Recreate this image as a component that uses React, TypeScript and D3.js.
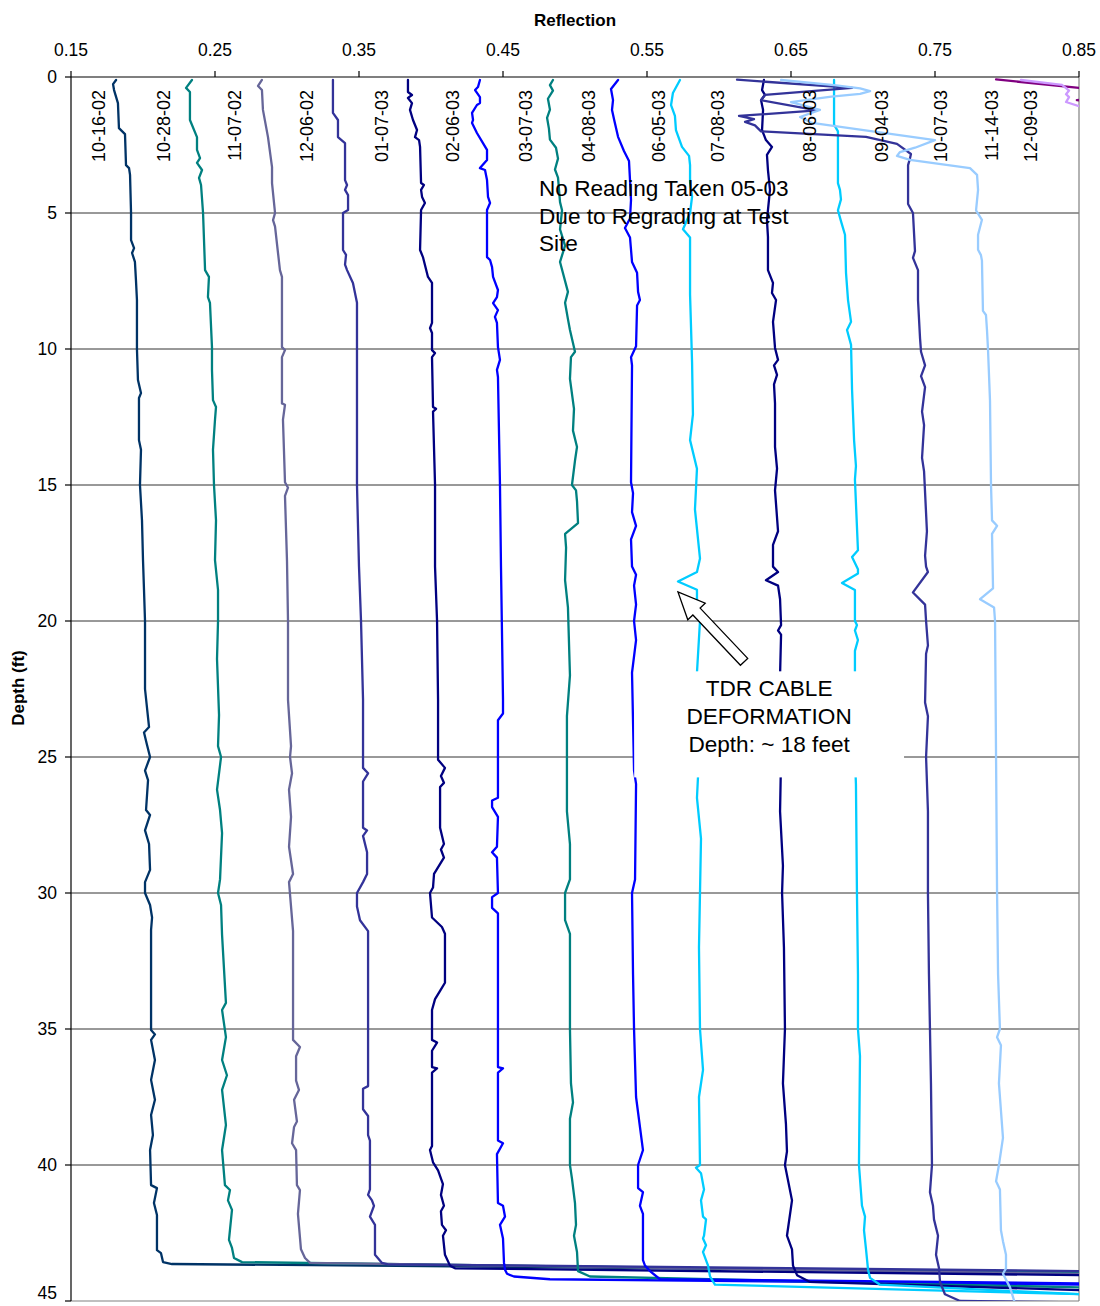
import React from 'react';
import * as d3 from 'd3';

// ---------- axis ticks ----------
const xTicks = [0.15, 0.25, 0.35, 0.45, 0.55, 0.65, 0.75, 0.85];
const yTicks = [0, 5, 10, 15, 20, 25, 30, 35, 40, 45];
const gridDepths = [5, 10, 15, 20, 25, 30, 35, 40];

// ---------- series names (reading dates) ----------
const seriesNames = [
  '10-16-02', '10-28-02', '11-07-02', '12-06-02', '01-07-03', '02-06-03', '03-07-03',
  '04-08-03', '06-05-03', '07-08-03', '08-06-03', '09-04-03', '10-07-03', '11-14-03', '12-09-03',
];
// reflection value where each rotated date label sits
const labelReflection = [
  0.1694, 0.2146, 0.2639, 0.3139, 0.366, 0.4153, 0.466, 0.5097,
  0.5583, 0.5993, 0.6632, 0.7132, 0.7542, 0.7896, 0.8167,
];

// ---------- data: [depth (ft), reflection] ----------
const s101602: [number, number][] = [
  [0.11, 0.1813], [0.26, 0.1792], [0.48, 0.1799], [0.96, 0.1826], [1.88, 0.1833], [2.1, 0.1875],
  [3.24, 0.1882], [3.35, 0.1903], [3.6, 0.191], [5.0, 0.1917], [6.0, 0.1917], [6.29, 0.1938],
  [6.47, 0.1924], [6.8, 0.1944], [7.46, 0.1951], [8.2, 0.1958], [10.0, 0.1958], [11.14, 0.1965],
  [11.62, 0.1986], [11.8, 0.1972], [13.35, 0.1972], [13.7, 0.1986], [15.0, 0.1979], [16.3, 0.1993],
  [17.76, 0.2], [18.86, 0.2007], [20.0, 0.2014], [22.5, 0.2014], [23.9, 0.2042], [24.1, 0.2007],
  [24.56, 0.2028], [25.0, 0.2049], [25.5, 0.2014], [25.85, 0.2035], [26.95, 0.2021], [27.13, 0.2049],
  [27.7, 0.2014], [28.2, 0.2042], [29.15, 0.2049], [29.6, 0.2014], [30.0, 0.2014], [30.44, 0.2049],
  [30.9, 0.2063], [31.36, 0.2056], [35.04, 0.2056], [35.2, 0.2083], [35.4, 0.2056], [36.14, 0.2083],
  [36.87, 0.2056], [37.6, 0.2083], [38.16, 0.2056], [38.9, 0.2069], [39.45, 0.2049], [40.74, 0.2056],
  [40.85, 0.2097], [41.4, 0.2076], [41.84, 0.2097], [43.13, 0.2097], [43.24, 0.2125], [43.57, 0.2139],
  [43.64, 0.2201], [43.93, 0.85],
];
const s102802: [number, number][] = [
  [0.11, 0.234], [0.4, 0.2299], [0.55, 0.2326], [1.58, 0.2326], [2.21, 0.2375], [2.68, 0.2375],
  [2.98, 0.2396], [3.16, 0.2375], [3.42, 0.241], [3.71, 0.2389], [3.97, 0.2403], [5.0, 0.2417],
  [7.1, 0.2431], [7.35, 0.2458], [8.09, 0.2451], [8.3, 0.2465], [9.93, 0.2479], [10.77, 0.2479],
  [11.88, 0.2486], [12.13, 0.2507], [12.6, 0.25], [13.7, 0.2486], [15.0, 0.2493], [16.3, 0.2507],
  [17.76, 0.25], [18.86, 0.2521], [20.0, 0.2521], [21.4, 0.2514], [23.46, 0.2528], [24.6, 0.2521],
  [25.0, 0.2542], [26.2, 0.2514], [26.95, 0.2535], [27.8, 0.2549], [29.5, 0.2535], [30.0, 0.2521],
  [30.44, 0.2542], [31.54, 0.2549], [34.04, 0.2576], [34.3, 0.2549], [35.3, 0.2576], [36.14, 0.2549],
  [36.7, 0.2583], [37.24, 0.2549], [38.53, 0.2576], [39.45, 0.2549], [40.74, 0.2569], [40.92, 0.2604],
  [41.3, 0.259], [41.65, 0.2618], [42.75, 0.2597], [43.05, 0.2618], [43.42, 0.2632], [43.57, 0.2688],
  [43.97, 0.85],
];
const s110702: [number, number][] = [
  [0.11, 0.2826], [0.33, 0.2799], [0.48, 0.2826], [1.21, 0.2833], [2.21, 0.2868], [3.31, 0.2896],
  [3.9, 0.2896], [5.0, 0.2917], [5.26, 0.2903], [5.5, 0.2917], [7.1, 0.2951], [7.35, 0.2965],
  [9.93, 0.2965], [10.04, 0.2986], [10.3, 0.2965], [12.0, 0.2965], [12.05, 0.2986], [12.6, 0.2972],
  [14.9, 0.2986], [15.1, 0.3007], [15.4, 0.2986], [17.8, 0.3], [20.0, 0.3007], [22.9, 0.3007],
  [24.6, 0.3028], [25.0, 0.3021], [25.6, 0.3035], [26.2, 0.3014], [27.2, 0.3028], [28.3, 0.3014],
  [29.3, 0.3042], [29.6, 0.3014], [31.4, 0.3042], [35.4, 0.3042], [35.66, 0.309], [36.0, 0.3063],
  [36.9, 0.3063], [37.24, 0.3083], [37.6, 0.3049], [38.4, 0.3069], [38.6, 0.3049], [39.2, 0.3035],
  [39.45, 0.3063], [40.74, 0.3069], [40.92, 0.309], [41.8, 0.3076], [43.1, 0.3097], [43.42, 0.3125],
  [43.6, 0.316], [44.0, 0.85],
];
const s120602: [number, number][] = [
  [0.11, 0.3319], [1.32, 0.3319], [1.58, 0.3354], [2.21, 0.3354], [2.43, 0.3403], [3.79, 0.3403],
  [3.97, 0.3417], [4.15, 0.3403], [4.34, 0.3424], [4.89, 0.3424], [5.0, 0.3389], [6.36, 0.3389],
  [6.54, 0.341], [6.9, 0.3403], [7.1, 0.3417], [7.57, 0.3458], [8.3, 0.3486], [12.6, 0.3486],
  [15.0, 0.3486], [18.0, 0.35], [20.0, 0.3514], [22.9, 0.3528], [25.4, 0.3528], [25.6, 0.3563],
  [25.9, 0.3528], [27.6, 0.3528], [27.7, 0.3556], [27.9, 0.3528], [28.5, 0.3556], [29.3, 0.3556],
  [29.6, 0.3528], [30.0, 0.3486], [30.5, 0.3486], [31.0, 0.3507], [31.4, 0.3563], [37.1, 0.3563],
  [37.2, 0.3528], [37.95, 0.3528], [38.2, 0.3563], [38.9, 0.3563], [39.1, 0.3576], [40.9, 0.3576],
  [41.1, 0.3563], [41.3, 0.359], [41.5, 0.3604], [41.9, 0.3576], [42.2, 0.3611], [43.3, 0.3611],
  [43.6, 0.366], [43.65, 0.3701], [43.9, 0.85],
];
const s010703: [number, number][] = [
  [0.11, 0.384], [0.55, 0.384], [0.66, 0.3868], [0.77, 0.384], [0.96, 0.3868], [1.21, 0.3854],
  [1.58, 0.3875], [1.95, 0.3903], [2.21, 0.3889], [2.32, 0.3917], [2.57, 0.3924], [3.9, 0.3931],
  [3.97, 0.3951], [4.15, 0.3931], [4.41, 0.3938], [4.63, 0.3958], [4.89, 0.3931], [6.36, 0.3924],
  [6.62, 0.3944], [7.35, 0.3979], [7.57, 0.4007], [9.04, 0.4007], [9.23, 0.3993], [9.41, 0.4007],
  [10.04, 0.4007], [10.15, 0.4028], [10.3, 0.4007], [12.13, 0.4014], [12.2, 0.4035], [12.3, 0.4014],
  [15.0, 0.4028], [18.0, 0.4028], [20.0, 0.4042], [22.9, 0.4049], [25.1, 0.4049], [25.4, 0.4097],
  [25.7, 0.4069], [25.95, 0.409], [26.1, 0.4063], [27.6, 0.4063], [28.2, 0.409], [28.4, 0.4069],
  [28.7, 0.409], [29.3, 0.4021], [29.8, 0.4014], [30.0, 0.3993], [30.9, 0.4007], [31.25, 0.4076],
  [31.5, 0.4097], [33.3, 0.4097], [33.6, 0.4063], [33.9, 0.4028], [34.3, 0.4007], [35.4, 0.4007],
  [35.5, 0.4042], [35.8, 0.4007], [36.4, 0.4007], [36.45, 0.4042], [36.6, 0.4007], [39.3, 0.4007],
  [39.45, 0.3993], [39.9, 0.4014], [40.2, 0.4049], [40.7, 0.4083], [41.1, 0.4069], [41.5, 0.409],
  [41.7, 0.4069], [42.2, 0.4076], [42.4, 0.4104], [42.6, 0.4083], [43.3, 0.4097], [43.7, 0.4132],
  [43.8, 0.4167], [44.05, 0.85],
];
const s020603: [number, number][] = [
  [0.11, 0.434], [0.37, 0.4326], [0.48, 0.4306], [0.74, 0.434], [0.96, 0.434], [1.03, 0.4319],
  [1.32, 0.4285], [1.58, 0.4292], [1.69, 0.4285], [2.06, 0.4319], [2.43, 0.4361], [2.68, 0.4389],
  [3.05, 0.4389], [3.35, 0.434], [3.42, 0.4375], [3.79, 0.4389], [4.41, 0.4396], [4.63, 0.441],
  [4.89, 0.4389], [6.62, 0.4389], [6.73, 0.441], [6.99, 0.4424], [7.35, 0.4431], [7.83, 0.4465],
  [8.09, 0.4458], [8.31, 0.4431], [8.57, 0.4465], [8.82, 0.4444], [9.04, 0.4458], [9.93, 0.4465],
  [10.4, 0.4479], [10.77, 0.4458], [11.03, 0.4465], [15.0, 0.4479], [18.0, 0.4486], [22.9, 0.45],
  [23.4, 0.45], [23.65, 0.4465], [26.5, 0.4465], [26.6, 0.4424], [26.84, 0.4424], [27.2, 0.4465],
  [28.3, 0.4458], [28.5, 0.4424], [28.7, 0.4458], [30.0, 0.4465], [30.15, 0.4424], [30.55, 0.4424],
  [30.75, 0.4465], [36.4, 0.4465], [36.45, 0.45], [36.6, 0.4465], [39.1, 0.4465], [39.2, 0.45],
  [39.6, 0.4458], [41.4, 0.4465], [41.5, 0.45], [41.9, 0.4514], [42.2, 0.4479], [42.7, 0.45],
  [43.6, 0.4507], [43.85, 0.4514], [44.0, 0.4528], [44.1, 0.4576], [44.2, 0.4826], [44.4, 0.85],
];
const s030703: [number, number][] = [
  [0.11, 0.4847], [0.3, 0.4826], [0.5, 0.4847], [0.8, 0.4812], [1.2, 0.4826], [1.5, 0.4806],
  [1.9, 0.4819], [2.3, 0.4826], [2.6, 0.4868], [3.0, 0.4882], [3.4, 0.4861], [3.7, 0.4882],
  [4.6, 0.4896], [4.9, 0.491], [5.6, 0.4896], [6.2, 0.4931], [6.8, 0.4896], [7.9, 0.4951],
  [8.3, 0.4931], [8.9, 0.4951], [9.3, 0.4965], [10.1, 0.5], [10.3, 0.4972], [11.1, 0.4965],
  [12.2, 0.4993], [13.0, 0.4986], [13.6, 0.5014], [14.1, 0.5], [15.0, 0.4979], [15.2, 0.5007],
  [15.6, 0.5014], [16.4, 0.5021], [16.8, 0.4931], [17.3, 0.4938], [18.5, 0.4931], [19.5, 0.4951],
  [22.0, 0.4965], [23.5, 0.4944], [27.0, 0.4944], [28.2, 0.4965], [29.5, 0.4965], [30.0, 0.4931],
  [31.0, 0.4931], [31.5, 0.4965], [35.0, 0.4965], [37.0, 0.4972], [37.7, 0.4986], [38.3, 0.4965],
  [40.0, 0.4965], [40.5, 0.4979], [41.4, 0.5], [42.2, 0.5007], [42.6, 0.4993], [43.2, 0.5014],
  [43.9, 0.5021], [44.1, 0.5104], [44.5, 0.85],
];
const s040803: [number, number][] = [
  [0.11, 0.5299], [0.44, 0.525], [0.85, 0.5264], [1.21, 0.5257], [1.55, 0.5271], [2.2, 0.5299],
  [2.72, 0.534], [3.09, 0.5375], [3.79, 0.5382], [4.52, 0.5389], [5.2, 0.5382], [5.55, 0.5347],
  [5.9, 0.5382], [6.8, 0.5396], [7.2, 0.5431], [7.9, 0.5438], [8.2, 0.5451], [8.4, 0.5431],
  [9.9, 0.5424], [10.3, 0.5389], [10.6, 0.5396], [14.9, 0.5389], [15.3, 0.5403], [16.0, 0.5396],
  [16.5, 0.5424], [17.0, 0.5389], [18.0, 0.5396], [18.3, 0.5424], [18.7, 0.541], [19.4, 0.5424],
  [20.0, 0.541], [20.7, 0.5424], [21.9, 0.5396], [25.5, 0.541], [26.0, 0.5424], [29.5, 0.5417],
  [30.0, 0.5396], [33.0, 0.5403], [35.0, 0.541], [37.5, 0.5424], [39.45, 0.5472], [40.0, 0.5438],
  [40.85, 0.5438], [41.0, 0.5472], [41.5, 0.5451], [41.8, 0.5472], [43.5, 0.5472], [43.7, 0.5486],
  [43.9, 0.5521], [44.2, 0.559], [44.35, 0.85],
];
const s060503: [number, number][] = [
  [0.11, 0.5729], [0.59, 0.568], [1.03, 0.5667], [1.43, 0.5694], [1.95, 0.5701], [2.57, 0.5743],
  [2.9, 0.5792], [3.24, 0.5799], [3.86, 0.5799], [4.4, 0.5813], [5.0, 0.5799], [5.6, 0.575],
  [5.9, 0.5799], [8.0, 0.5799], [10.5, 0.5813], [12.4, 0.5819], [13.35, 0.5799], [14.4, 0.5847],
  [15.9, 0.5833], [17.7, 0.5868], [18.2, 0.5847], [18.55, 0.5715], [18.85, 0.5847], [19.2, 0.5847],
  [20.0, 0.5868], [21.9, 0.5847], [25.0, 0.5861], [26.5, 0.5847], [28.0, 0.5875], [30.0, 0.5868],
  [32.0, 0.5861], [35.0, 0.5868], [36.5, 0.5889], [37.5, 0.5861], [40.0, 0.5868], [40.1, 0.584],
  [40.3, 0.5875], [40.9, 0.5896], [41.3, 0.5875], [41.9, 0.5889], [42.0, 0.591], [42.6, 0.5896],
  [42.7, 0.5889], [42.95, 0.591], [43.2, 0.5889], [43.7, 0.5924], [44.1, 0.5938], [44.4, 0.5972],
  [44.75, 0.85],
];
const s070803: [number, number][] = [
  [0.11, 0.6312], [0.48, 0.6299], [0.66, 0.6319], [0.85, 0.6292], [1.21, 0.6306], [1.95, 0.6299],
  [2.32, 0.6326], [2.57, 0.6368], [2.86, 0.6333], [3.42, 0.634], [4.15, 0.6354], [5.26, 0.6333],
  [5.88, 0.634], [7.1, 0.634], [7.57, 0.6375], [7.94, 0.6368], [8.2, 0.6396], [9.0, 0.6375],
  [9.96, 0.6389], [10.4, 0.641], [10.6, 0.6382], [10.95, 0.6403], [11.3, 0.6382], [12.0, 0.6389],
  [13.6, 0.6389], [14.4, 0.6403], [15.2, 0.6389], [16.7, 0.641], [17.2, 0.6375], [18.0, 0.6375],
  [18.2, 0.641], [18.5, 0.6326], [18.7, 0.641], [19.2, 0.6424], [20.15, 0.6431], [20.35, 0.641],
  [20.5, 0.6431], [22.0, 0.6424], [25.0, 0.6431], [27.0, 0.6424], [29.0, 0.6444], [30.0, 0.6438],
  [32.0, 0.6451], [35.0, 0.6458], [37.0, 0.6444], [38.5, 0.6465], [39.5, 0.6472], [40.0, 0.6458],
  [41.3, 0.6507], [42.6, 0.6472], [43.1, 0.6507], [43.7, 0.6514], [44.05, 0.6542], [44.3, 0.6632],
  [44.6, 0.85],
];
const s080603: [number, number][] = [
  [0.11, 0.6799], [1.75, 0.6799], [2.0, 0.6826], [3.9, 0.6826], [4.15, 0.684], [4.5, 0.6847],
  [4.9, 0.6826], [5.3, 0.6847], [5.8, 0.6875], [7.2, 0.6882], [8.2, 0.6896], [9.0, 0.6917],
  [9.3, 0.6889], [9.85, 0.6917], [11.5, 0.6924], [13.35, 0.6938], [14.3, 0.6951], [14.8, 0.6944],
  [17.4, 0.6965], [17.65, 0.6924], [18.1, 0.6965], [18.25, 0.6965], [18.6, 0.6854], [18.86, 0.6944],
  [20.0, 0.6944], [20.15, 0.6958], [20.35, 0.6944], [20.7, 0.6965], [21.1, 0.6944], [25.0, 0.6944],
  [26.0, 0.6951], [30.0, 0.6958], [33.0, 0.6965], [35.0, 0.6965], [36.0, 0.6979], [40.0, 0.6972],
  [41.5, 0.6993], [41.9, 0.7014], [42.4, 0.7007], [43.1, 0.7021], [43.85, 0.7035], [44.15, 0.7049],
  [44.4, 0.7118], [44.75, 0.85],
];
const s090403: [number, number][] = [
  [0.1, 0.6125], [0.4, 0.6924], [0.66, 0.6319], [0.85, 0.6292], [1.23, 0.6681], [1.43, 0.6139],
  [1.55, 0.6243], [1.65, 0.6181], [1.78, 0.625], [2.0, 0.6292], [2.2, 0.7021], [2.46, 0.7236],
  [2.83, 0.7333], [3.0, 0.7326], [3.24, 0.7313], [4.67, 0.7313], [5.0, 0.7347], [6.4, 0.7361],
  [6.65, 0.7347], [7.1, 0.7382], [8.2, 0.7382], [9.6, 0.7396], [10.1, 0.7403], [10.6, 0.7431],
  [11.0, 0.7403], [11.4, 0.7431], [12.3, 0.741], [12.8, 0.7424], [14.0, 0.741], [14.5, 0.7424],
  [16.7, 0.7444], [17.6, 0.7431], [18.0, 0.7438], [18.2, 0.7451], [18.95, 0.7347], [19.4, 0.7431],
  [20.0, 0.7438], [20.9, 0.7451], [21.2, 0.7438], [23.0, 0.7431], [23.5, 0.7451], [25.0, 0.7438],
  [27.0, 0.7451], [30.0, 0.7451], [33.0, 0.7458], [35.0, 0.7465], [37.0, 0.7472], [40.0, 0.7479],
  [41.0, 0.7465], [41.5, 0.7486], [42.0, 0.7493], [42.6, 0.7521], [43.3, 0.7507], [43.8, 0.7528],
  [44.3, 0.7535], [44.75, 0.7569], [45.0, 0.7674], [45.05, 0.85],
];
const s100703: [number, number][] = [
  [0.11, 0.6431], [0.3, 0.68], [0.42, 0.698], [0.52, 0.7049], [0.62, 0.698], [0.72, 0.678],
  [0.92, 0.65], [1.21, 0.6701], [1.47, 0.6563], [1.69, 0.6646], [2.32, 0.75], [2.6, 0.7361],
  [2.76, 0.7257], [2.9, 0.7236], [3.05, 0.7326], [3.35, 0.7743], [3.6, 0.7792], [4.15, 0.7799],
  [4.9, 0.7785], [5.25, 0.7826], [5.8, 0.7799], [6.35, 0.7799], [6.55, 0.7819], [6.75, 0.7826],
  [8.6, 0.7833], [8.75, 0.7854], [9.3, 0.7861], [10.0, 0.7868], [11.9, 0.7882], [15.0, 0.7889],
  [16.3, 0.7896], [16.5, 0.7931], [16.8, 0.7896], [18.8, 0.7903], [19.2, 0.7813], [19.5, 0.791],
  [20.0, 0.7917], [25.0, 0.7924], [30.0, 0.7931], [33.0, 0.7938], [35.0, 0.7951], [35.3, 0.7931],
  [35.6, 0.7958], [37.0, 0.7944], [39.0, 0.7972], [40.0, 0.7944], [40.6, 0.7924], [40.9, 0.7951],
  [42.4, 0.7958], [42.8, 0.7972], [43.3, 0.7993], [43.8, 0.7993], [44.0, 0.7972], [44.5, 0.8021],
  [45.1, 0.8056], [45.15, 0.85],
];
const s111403: [number, number][] = [
  [0.09, 0.7924], [0.4, 0.85], [0.45, 0.86], [0.8, 0.86], [0.85, 0.8485], [0.9, 0.86],
];
const s120903: [number, number][] = [
  [0.11, 0.8097], [0.29, 0.8382], [0.5, 0.8431], [0.63, 0.841], [0.74, 0.8431], [0.92, 0.841],
  [1.07, 0.85], [1.1, 0.853],
];

const seriesData = [
  s101602, s102802, s110702, s120602, s010703, s020603, s030703, s040803,
  s060503, s070803, s080603, s090403, s100703, s111403, s120903,
];

// ---------- styles ----------
const seriesColors = [
  '#003366', '#008080', '#666699', '#333399', '#000080', '#0000FF', '#008080', '#0000FF',
  '#00CCFF', '#000080', '#00CCFF', '#333399', '#99CCFF', '#800080', '#CC99FF',
];

const noteLines = ['No Reading Taken 05-03', 'Due to Regrading at Test', 'Site'];
const tdrLines = ['TDR CABLE', 'DEFORMATION', 'Depth: ~ 18 feet'];

const FONT = "'Liberation Sans', Arial, Helvetica, sans-serif";

export default function App() {
  const W = 1100;
  const H = 1306;
  const x = d3.scaleLinear().domain([0.15, 0.85]).range([71, 1079]);
  const y = d3.scaleLinear().domain([0, 45]).range([77, 1301]);
  const line = d3
    .line<[number, number]>()
    .x((p) => x(p[1]))
    .y((p) => y(p[0]));

  // arrow (annotation) from tail to tip, in data coordinates
  const tip = [x(0.5715), y(18.93)];
  const tail = [x(0.6174), y(21.5)];
  const dx = tip[0] - tail[0];
  const dy = tip[1] - tail[1];
  const len = Math.hypot(dx, dy);
  const ux = dx / len;
  const uy = dy / len;
  const nx = -uy;
  const ny = ux;
  const headLen = 27;
  const headHalf = 12;
  const shaftHalf = 5;
  const bx = tip[0] - ux * headLen;
  const by = tip[1] - uy * headLen;
  const arrowPts = [
    [tail[0] + nx * shaftHalf, tail[1] + ny * shaftHalf],
    [bx + nx * shaftHalf, by + ny * shaftHalf],
    [bx + nx * headHalf, by + ny * headHalf],
    [tip[0], tip[1]],
    [bx - nx * headHalf, by - ny * headHalf],
    [bx - nx * shaftHalf, by - ny * shaftHalf],
    [tail[0] - nx * shaftHalf, tail[1] - ny * shaftHalf],
  ];

  const boxX0 = x(0.5411);
  const boxX1 = x(0.7285);
  const boxY0 = y(21.85);
  const boxY1 = y(25.75);

  return (
    <svg
      width={W}
      height={H}
      style={{ position: 'absolute', left: 0, top: 0, background: '#fff' }}
      fontFamily={FONT}
    >
      <defs>
        <clipPath id="plotClip">
          <rect x={71} y={77} width={1008} height={1224} />
        </clipPath>
      </defs>
      <rect x={0} y={0} width={W} height={H} fill="#fff" />

      {/* grid */}
      {gridDepths.map((d) => (
        <line key={d} x1={x(0.15)} x2={x(0.85)} y1={y(d)} y2={y(d)} stroke="#333" strokeWidth={1} />
      ))}
      {/* frame right & bottom */}
      <line x1={x(0.85)} x2={x(0.85)} y1={y(0)} y2={y(45)} stroke="#808080" strokeWidth={1.2} />
      <line x1={x(0.15)} x2={x(0.85)} y1={y(45)} y2={y(45)} stroke="#808080" strokeWidth={1.2} />

      {/* series */}
      <g clipPath="url(#plotClip)">
        {seriesData.map((s, i) => (
          <path
            key={seriesNames[i]}
            d={line(s) || ''}
            fill="none"
            stroke={seriesColors[i]}
            strokeWidth={2.3}
            strokeLinejoin="round"
            strokeLinecap="round"
          />
        ))}
      </g>

      {/* axes */}
      <line x1={x(0.15)} x2={x(0.85)} y1={y(0)} y2={y(0)} stroke="#000" strokeWidth={1.2} />
      <line x1={x(0.15)} x2={x(0.15)} y1={y(0)} y2={y(45)} stroke="#000" strokeWidth={1.2} />
      {xTicks.map((t) => (
        <g key={t}>
          <line x1={x(t)} x2={x(t)} y1={y(0)} y2={y(0) - 6} stroke="#000" strokeWidth={1.2} />
          <text x={x(t)} y={56} fontSize={17.5} textAnchor="middle" fill="#000">
            {t.toFixed(2)}
          </text>
        </g>
      ))}
      {yTicks.map((t) => (
        <g key={t}>
          <line x1={x(0.15) - 6} x2={x(0.15)} y1={y(t)} y2={y(t)} stroke="#000" strokeWidth={1.2} />
          <text x={57} y={Math.min(y(t) + 6, 1299)} fontSize={17.5} textAnchor="end" fill="#000">
            {t}
          </text>
        </g>
      ))}

      {/* axis titles */}
      <text x={575} y={26} fontSize={17} fontWeight="bold" textAnchor="middle" fill="#000">
        Reflection
      </text>
      <text
        transform={`translate(18, ${688}) rotate(-90)`}
        fontSize={17}
        fontWeight="bold"
        textAnchor="middle"
        dominantBaseline="central"
        fill="#000"
      >
        Depth (ft)
      </text>

      {/* rotated date labels */}
      {seriesNames.map((n, i) => (
        <text
          key={n}
          transform={`translate(${x(labelReflection[i])}, ${y(0.48)}) rotate(-90)`}
          fontSize={18}
          textAnchor="end"
          dominantBaseline="central"
          fill="#000"
        >
          {n}
        </text>
      ))}

      {/* note about missing reading */}
      <text fontSize={22.6} fill="#000">
        {noteLines.map((l, i) => (
          <tspan key={l} x={x(0.475)} y={y(4.375) + i * 27.5}>
            {l}
          </tspan>
        ))}
      </text>

      {/* TDR annotation */}
      <polygon
        points={arrowPts.map((p) => p.join(',')).join(' ')}
        fill="#fff"
        stroke="#000"
        strokeWidth={1.3}
        strokeLinejoin="miter"
      />
      <rect x={boxX0} y={boxY0} width={boxX1 - boxX0} height={boxY1 - boxY0} fill="#fff" />
      <text fontSize={22.6} fill="#000" textAnchor="middle">
        {tdrLines.map((l, i) => (
          <tspan key={l} x={(boxX0 + boxX1) / 2} y={y(22.75) + i * 28}>
            {l}
          </tspan>
        ))}
      </text>
    </svg>
  );
}
